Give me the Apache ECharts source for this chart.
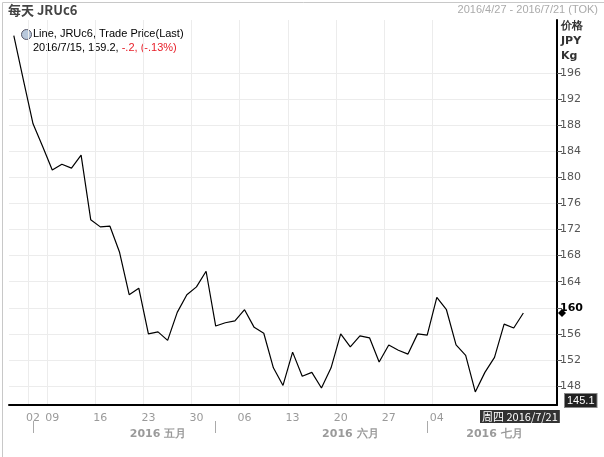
<!DOCTYPE html>
<html><head><meta charset="utf-8">
<script src="https://cdn.jsdelivr.net/npm/echarts@6/dist/echarts.min.js"></script>
<style>html,body{margin:0;padding:0;background:#fff}#c{width:604px;height:457px}</style>
</head><body><div id="c"></div>
<script>
const dates = ['4/27','4/28','5/2','5/6','5/9','5/10','5/11','5/12','5/13','5/16','5/17','5/18','5/19','5/20',
  '5/23','5/24','5/25','5/26','5/27','5/30','5/31','6/1','6/2','6/3','6/6','6/7','6/8','6/9','6/10',
  '6/13','6/14','6/15','6/16','6/17','6/20','6/21','6/22','6/23','6/24','6/27','6/28','6/29','6/30','7/1',
  '7/4','7/5','7/6','7/7','7/8','7/11','7/12','7/13','7/14','7/15','7/19','7/20','7/21'];
const prices = [201.7,194.9,188.2,184.7,181.1,182.0,181.4,183.4,173.5,172.4,172.5,168.5,162.0,163.0,
  156.0,156.3,155.0,159.3,162.0,163.2,165.6,157.2,157.7,158.0,159.7,157.0,156.1,150.8,148.1,
  153.2,149.5,150.1,147.7,150.8,156.0,154.0,155.7,155.4,151.7,154.3,153.5,152.9,156.0,155.8,
  161.6,159.7,154.3,152.7,147.1,150.1,152.4,157.5,156.9,159.2];
const weekLabels = {'5/2':'02','5/9':'09','5/16':'16','5/23':'23','5/30':'30','6/6':'06','6/13':'13','6/20':'20','6/27':'27','7/4':'04'};
const monthStarts = ['5/2','6/1','7/1'];
const monthLabels = {'5/24':'2016 五月','6/21':'2016 六月','7/12':'2016 七月'};
const yTicks = [148,152,156,160,164,168,172,176,180,184,188,192,196];

const chart = echarts.init(document.getElementById('c'));
const gray = '#9a9a9a';
chart.setOption({
  animation: false,
  textStyle: { fontFamily: 'Verdana, DejaVu Sans' },
  grid: { left: 9, right: 47, top: 20, bottom: 52 },
  xAxis: [{
    type: 'category', data: dates, boundaryGap: true,
    axisLine: { lineStyle: { color: '#000', width: 2 } },
    axisTick: { show: false },
    axisLabel: { interval: (i, v) => !!weekLabels[v], formatter: v => weekLabels[v] || '', color: gray, fontSize: 11, margin: 8 },
    splitLine: { show: true, interval: (i, v) => !!weekLabels[v], lineStyle: { color: '#ececec' } }
  }, {
    type: 'category', data: dates, position: 'bottom', offset: 28,
    axisLine: { show: false },
    axisTick: { show: true, alignWithLabel: true, interval: (i, v) => monthStarts.includes(v), length: 12, inside: true, lineStyle: { color: '#aaa' } },
    axisLabel: { interval: (i, v) => !!monthLabels[v], formatter: v => monthLabels[v] || '', color: gray, fontSize: 11, fontWeight: 'bold', margin: -4 }
  }],
  yAxis: {
    type: 'value', position: 'right', min: 145.1, max: 204.1,
    name: '价格\nJPY\nKg', nameLocation: 'end', nameGap: -44,
    nameTextStyle: { color: '#333', fontWeight: 'bold', fontSize: 11, align: 'left', padding: [0, 0, 0, 4], lineHeight: 15 },
    axisLine: { show: true, lineStyle: { color: '#000', width: 2 } },
    axisTick: { show: true, customValues: yTicks, length: 5, lineStyle: { color: '#555' } },
    axisLabel: { customValues: yTicks, color: '#555', fontSize: 11, margin: 3,
      formatter: v => v === 160 ? '{b|160}' : String(v), rich: { b: { fontWeight: 'bold', color: '#000', fontSize: 11 } } },
    splitLine: { show: true, lineStyle: { color: '#ececec' } }
  },
  series: [{
    type: 'line', data: prices, symbol: 'none',
    lineStyle: { color: '#000', width: 1.2 }
  }],
  graphic: [
    { type: 'rect', left: 0, top: 0, shape: { width: 603, height: 456 }, style: { fill: 'none', stroke: '#c8c8c8' } },
    { type: 'text', left: 8, top: 4, style: { text: '每天 JRUc6', fill: '#444', font: 'bold 13px "Noto Sans CJK SC", sans-serif' } },
    { type: 'text', right: 6, top: 4, style: { text: '2016/4/27 - 2016/7/21 (TOK)', fill: '#aaa', font: '11px Verdana, sans-serif' } },
    { type: 'circle', left: 21, top: 29, shape: { r: 5 }, style: { fill: '#b8c8dc', stroke: '#556' } },
    { type: 'text', left: 33, top: 28, style: { text: 'Line, JRUc6, Trade Price(Last)', fill: '#000', font: '11px Verdana, sans-serif' } },
    { type: 'text', left: 33, top: 42, style: { rich: { a: { fill: '#000', font: '11px Verdana, sans-serif' }, r: { fill: '#e8202a', font: '11px Verdana, sans-serif' } },
      text: '{a|2016/7/15, 159.2, }{r|-.2, (-.13%)}' } },
    { type: 'text', left: 564, top: 393, style: { text: '145.1', fill: '#fff', backgroundColor: '#222', borderColor: '#888', borderWidth: 1, padding: [1, 2], font: '11px Verdana, sans-serif' } },
    { type: 'text', left: 480, top: 410, style: { text: '周四 2016/7/21', fill: '#fff', backgroundColor: '#333', padding: [1, 2], font: '11px Verdana, "Noto Sans CJK SC", sans-serif' } },
    { type: 'polygon', shape: { points: [[562, 309], [566, 313], [562, 317], [558, 313]] }, style: { fill: '#000' } }
  ]
});
</script>
</body></html>
